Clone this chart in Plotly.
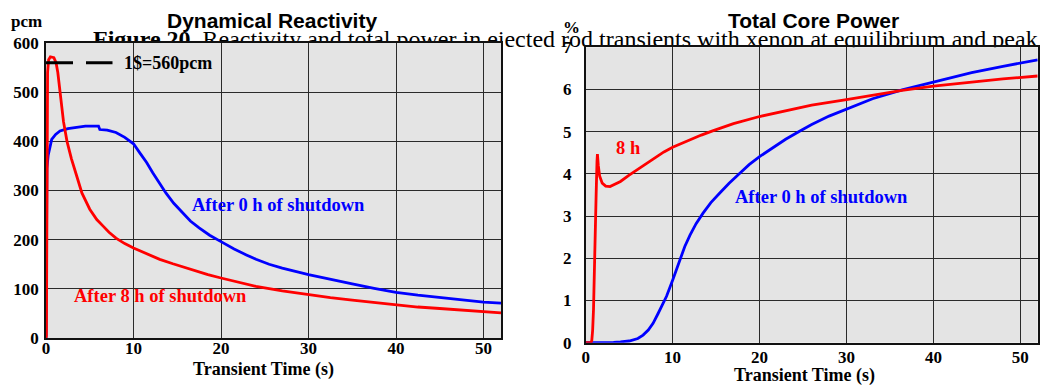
import plotly.graph_objects as go

W, H = 1042, 387

# ---------------- data ----------------
# Dynamical reactivity (pcm) vs transient time (s)
react_t_0h = [0, 0.03, 0.06, 0.1, 0.25, 0.45, 0.65, 1.1, 1.6, 2.5, 3.5, 4.5, 6.0, 6.15,
              7.0, 8.0, 9.0, 10.0, 10.7, 11.5, 12.2, 13.0, 13.7, 14.6, 15.6, 16.5, 17.5,
              18.7, 20, 21.5, 22.9, 24, 25.5, 27, 30, 32.5, 35, 37.5, 40, 42.5, 45,
              47.5, 50, 52]
react_0h = [0, 120, 300, 345, 372, 392, 404, 414, 421, 426, 429, 431, 431, 424,
            423, 418, 408, 395, 377, 357, 336, 314, 295, 274, 254, 238, 224,
            209, 196, 181, 169, 160, 150, 142, 129, 119, 110, 101, 93, 87, 82,
            77, 73, 71]

react_t_8h = [0, 0.05, 0.08, 0.12, 0.18, 0.3, 0.5, 0.9, 1.15, 1.35, 1.6, 2.0, 2.4, 2.9,
              3.5, 4.1, 5.0, 5.8, 6.5, 7.2, 8.0, 9.0, 10, 11, 12, 13, 14.5, 15.7, 17,
              18.5, 20, 22, 24, 27, 30, 32.5, 35, 37.5, 40, 42.5, 45, 47.5, 50, 52]
react_8h = [0, 5, 150, 420, 540, 566, 572, 570, 560, 540, 505, 440, 400, 365,
            330, 295, 262, 241, 228, 215, 203, 192, 183, 175, 167, 160, 151, 144, 137,
            129, 122, 113, 105, 96, 88, 82, 77, 72, 67, 63, 60, 57, 54, 51]

# Total core power (%) vs transient time (s)
power_t_0h = [0, 2, 3.2, 4, 5, 6, 6.6, 7.2, 7.75, 8.3, 8.7, 9.3, 10, 10.8, 11.4, 12,
              12.7, 13.5, 14.4, 15.4, 16.5, 17.7, 18.8, 20, 21.5, 23, 24.5, 26, 28,
              30, 33, 36.4, 40, 44.4, 48, 52]
power_0h = [0, 0, 0.01, 0.02, 0.04, 0.1, 0.18, 0.3, 0.46, 0.68, 0.85, 1.1, 1.48, 1.95,
            2.28, 2.55, 2.82, 3.07, 3.32, 3.54, 3.78, 4.01, 4.22, 4.41, 4.62, 4.82,
            5.0, 5.17, 5.37, 5.54, 5.78, 5.99, 6.18, 6.40, 6.55, 6.70]

power_t_8h = [0, 0.6, 0.7, 0.8, 0.9, 1.0, 1.1, 1.2, 1.3, 1.35, 1.45, 1.6, 1.9, 2.3, 2.8,
              3.5, 4.0, 5.0, 6.0, 7.0, 8.0, 9.0, 10, 11, 12, 13.3, 14.6, 17, 20, 23, 26,
              30, 33, 36.4, 40, 44, 48, 52]
power_8h = [0, 0, 0.05, 0.3, 0.8, 1.5, 2.4, 3.5, 4.3, 4.47, 4.2, 3.95, 3.78, 3.71, 3.70,
            3.76, 3.82, 3.97, 4.11, 4.26, 4.40, 4.52, 4.63, 4.72, 4.81, 4.92, 5.02,
            5.19, 5.36, 5.50, 5.63, 5.76, 5.87, 5.98, 6.08, 6.17, 6.25, 6.32]

dollar_pcm = 560
dollar_line_t = [0, 7.6]
dollar_label = "1$=560pcm"

titles = ["Dynamical Reactivity", "Total Core Power"]
y_units = ["pcm", "%"]
x_title = "Transient Time (s)"
caption = ("<b>Figure 20.</b> Reactivity and total power in ejected rod transients "
           "with xenon at equilibrium and peak")

RED = "#ff0000"
BLUE = "#0000ff"
SERIF = "Liberation Serif, Times New Roman, serif"
SANS = "Liberation Sans, Arial, sans-serif"
GRID = "#2a2a2a"
BG = "#e4e4e4"

fig = go.Figure()

# background caption (sits behind the two plot areas)
fig.add_trace(go.Scatter(
    x=[93], y=[40.6], mode="text", text=[caption], textposition="middle right",
    textfont=dict(family=SERIF, size=24, color="black"),
    xaxis="x", yaxis="y", cliponaxis=False, showlegend=False, hoverinfo="skip"))

# left: reactivity
fig.add_trace(go.Scatter(x=react_t_0h, y=react_0h, mode="lines",
                         line=dict(color=BLUE, width=2.8), xaxis="x2", yaxis="y2",
                         showlegend=False))
fig.add_trace(go.Scatter(x=react_t_8h, y=react_8h, mode="lines",
                         line=dict(color=RED, width=2.8), xaxis="x2", yaxis="y2",
                         showlegend=False))
fig.add_trace(go.Scatter(x=dollar_line_t, y=[dollar_pcm, dollar_pcm], mode="lines",
                         line=dict(color="black", width=3, dash="27px,13px"),
                         xaxis="x2", yaxis="y2", showlegend=False))

# right: power
fig.add_trace(go.Scatter(x=power_t_0h, y=power_0h, mode="lines",
                         line=dict(color=BLUE, width=2.8), xaxis="x3", yaxis="y3",
                         showlegend=False))
fig.add_trace(go.Scatter(x=power_t_8h, y=power_8h, mode="lines",
                         line=dict(color=RED, width=2.8), xaxis="x3", yaxis="y3",
                         showlegend=False))

tickfont = dict(family=SERIF, size=17, color="black", weight="bold")
common = dict(showgrid=True, gridcolor=GRID, gridwidth=1, showline=True,
              linecolor="#111111", linewidth=1.5, mirror=True, zeroline=False,
              ticks="", tickfont=tickfont, fixedrange=True, automargin=False)

fig.update_layout(
    width=W, height=H, margin=dict(l=0, r=0, t=0, b=0, pad=0, autoexpand=False),
    paper_bgcolor="white", plot_bgcolor=BG,
    xaxis=dict(domain=[0, 1], range=[0, W], visible=False, fixedrange=True,
               automargin=False),
    yaxis=dict(domain=[0, 1], range=[H, 0], visible=False, fixedrange=True,
               automargin=False),
    xaxis2=dict(domain=[46 / W, 501 / W], range=[0, 52], dtick=10, anchor="y2",
                ticklabelstandoff=-6, **common),
    yaxis2=dict(domain=[(H - 338) / H, (H - 43) / H], range=[0, 600], dtick=100,
                anchor="x2", ticklabelstandoff=2, **common),
    xaxis3=dict(domain=[585.7 / W, 1037.7 / W], range=[0, 52], dtick=10, anchor="y3",
                ticklabelstandoff=-2, **common),
    yaxis3=dict(domain=[(H - 342.7) / H, (H - 47.3) / H], range=[0, 7], dtick=1,
                anchor="x3", ticklabelstandoff=9, **common),
    shapes=[dict(type="rect", xref="paper", yref="paper", x0=0, x1=1, y0=0, y1=1,
                 fillcolor="white", line=dict(width=0), layer="below")],
    showlegend=False,
)

ann = []
# plot titles
ann.append(dict(text=f"<b>{titles[0]}</b>", x=272 / W, y=(H - 20) / H, xref="paper",
                yref="paper", showarrow=False, font=dict(family=SANS, size=21, color="black"),
                xanchor="center", yanchor="middle"))
ann.append(dict(text=f"<b>{titles[1]}</b>", x=813 / W, y=(H - 20) / H, xref="paper",
                yref="paper", showarrow=False, font=dict(family=SANS, size=21, color="black"),
                xanchor="center", yanchor="middle"))
# y units
ann.append(dict(text=f"<b>{y_units[0]}</b>", x=26 / W, y=(H - 22) / H, xref="paper",
                yref="paper", showarrow=False, font=dict(family=SERIF, size=17, color="black"),
                xanchor="center", yanchor="middle"))
ann.append(dict(text=f"<b>{y_units[1]}</b>", x=571 / W, y=(H - 27) / H, xref="paper",
                yref="paper", showarrow=False, font=dict(family=SERIF, size=17, color="black"),
                xanchor="center", yanchor="middle"))
# x titles
ann.append(dict(text=f"<b>{x_title}</b>", x=263 / W, y=(H - 369) / H, xref="paper",
                yref="paper", showarrow=False, font=dict(family=SERIF, size=18, color="black"),
                xanchor="center", yanchor="middle"))
ann.append(dict(text=f"<b>{x_title}</b>", x=804 / W, y=(H - 375) / H, xref="paper",
                yref="paper", showarrow=False, font=dict(family=SERIF, size=18, color="black"),
                xanchor="center", yanchor="middle"))
# in-plot labels
ann.append(dict(text=f"<b>{dollar_label}</b>", x=8.7, y=dollar_pcm, xref="x2", yref="y2",
                showarrow=False, font=dict(family=SERIF, size=18, color="black"),
                xanchor="left", yanchor="middle"))
ann.append(dict(text="<b>After 0 h of shutdown</b>", x=16.4, y=271, xref="x2", yref="y2",
                showarrow=False, font=dict(family=SERIF, size=18.5, color=BLUE),
                xanchor="left", yanchor="middle"))
ann.append(dict(text="<b>After 8 h of shutdown</b>", x=3.0, y=86, xref="x2", yref="y2",
                showarrow=False, font=dict(family=SERIF, size=18.5, color=RED),
                xanchor="left", yanchor="middle"))
ann.append(dict(text="<b>8 h</b>", x=3.3, y=4.61, xref="x3", yref="y3",
                showarrow=False, font=dict(family=SERIF, size=18.5, color=RED),
                xanchor="left", yanchor="middle"))
ann.append(dict(text="<b>After 0 h of shutdown</b>", x=17.0, y=3.46, xref="x3", yref="y3",
                showarrow=False, font=dict(family=SERIF, size=18.5, color=BLUE),
                xanchor="left", yanchor="middle"))
fig.update_layout(annotations=ann)

fig.write_html("out.html")
